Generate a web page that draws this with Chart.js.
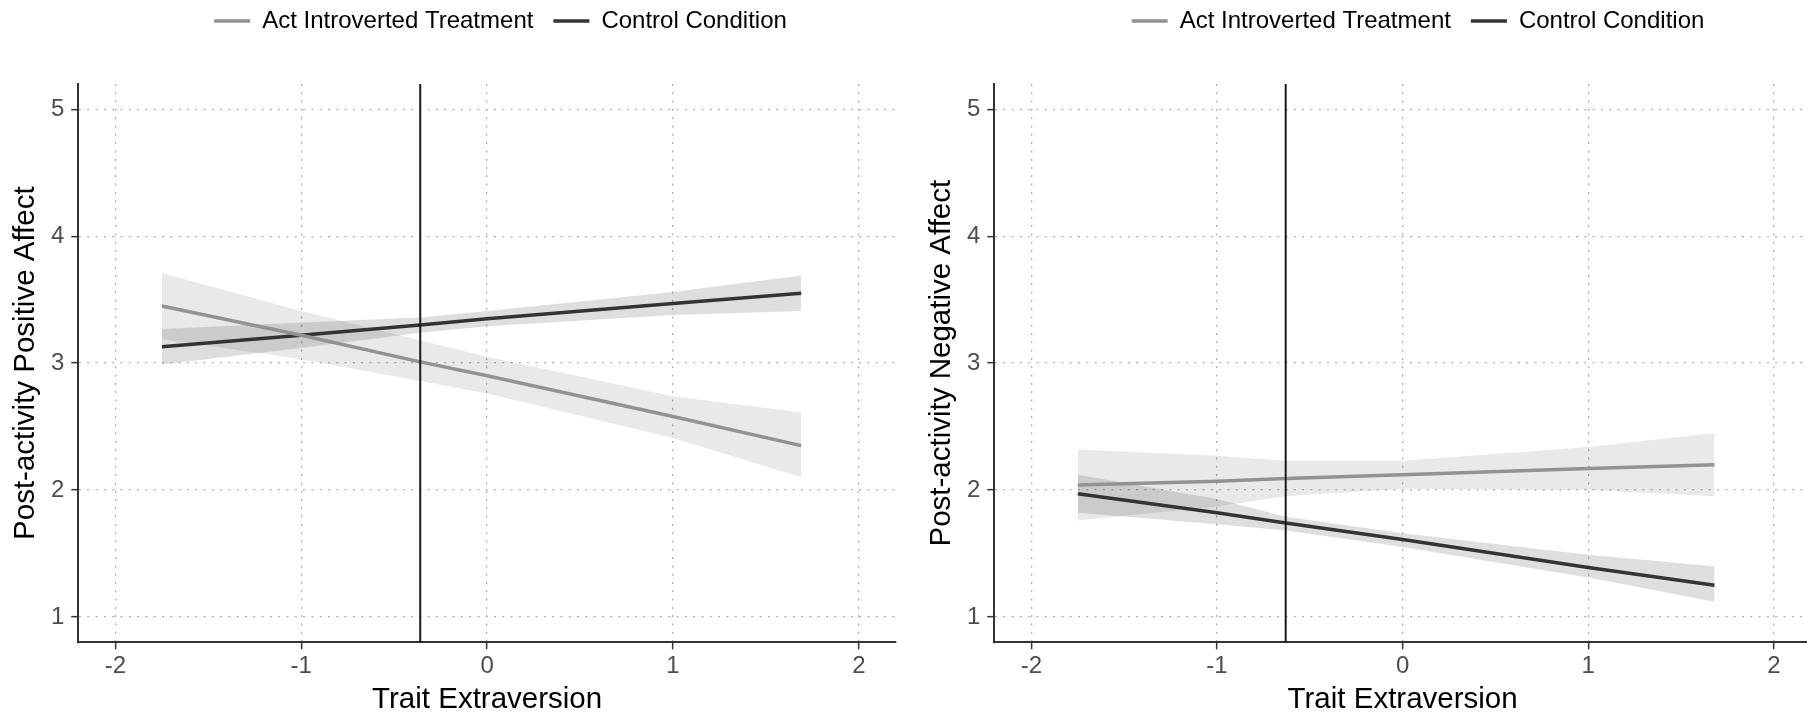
<!DOCTYPE html>
<html>
<head>
  <script src="https://cdn.jsdelivr.net/npm/chart.js"></script>
  <style>
    body {
      margin:0;
      overflow:hidden;
      background:#ffffff;
    }
    .Panel {
      position:absolute;
      top:0px;
      height:718px;
    }
  </style>
</head>
<body>
<div class="Panel" style="left:0px; width:903px;"><canvas id="posChart"></canvas></div>
<div class="Panel" style="left:903px; width:912px;"><canvas id="negChart"></canvas></div>

<script>
  var fontFamily = "'Liberation Sans', Arial, sans-serif";
  var seriesNames = ["Act Introverted Treatment", "Control Condition"];
  var xTitle = "Trait Extraversion";
  var xTicks = [-2, -1, 0, 1, 2];
  var yTicks = [1, 2, 3, 4, 5];
  var xRange = [-2.2, 2.2];
  var yRange = [0.8, 5.2];

  // left panel: positive affect
  var posTitle  = "Post-activity Positive Affect";
  var posX      = [-1.75, -1,   -0.36, 0,    1,    1.69];
  var posActFit = [3.45,  3.22, 3.01,  2.90, 2.58, 2.35];
  var posActHi  = [3.71,  3.41, 3.18,  3.05, 2.74, 2.61];
  var posActLo  = [3.19,  3.03, 2.86,  2.76, 2.41, 2.10];
  var posCtlFit = [3.13,  3.22, 3.30,  3.35, 3.47, 3.55];
  var posCtlHi  = [3.27,  3.32, 3.36,  3.41, 3.56, 3.69];
  var posCtlLo  = [2.99,  3.12, 3.24,  3.29, 3.38, 3.41];
  var posMarker = -0.36;

  // right panel: negative affect
  var negTitle  = "Post-activity Negative Affect";
  var negX      = [-1.75, -1,   -0.63, 0,    1,    1.68];
  var negActFit = [2.04,  2.07, 2.09,  2.12, 2.17, 2.20];
  var negActHi  = [2.32,  2.27, 2.23,  2.23, 2.34, 2.45];
  var negActLo  = [1.76,  1.87, 1.95,  2.01, 2.00, 1.95];
  var negCtlFit = [1.97,  1.82, 1.74,  1.61, 1.39, 1.25];
  var negCtlHi  = [2.12,  1.93, 1.79,  1.66, 1.49, 1.40];
  var negCtlLo  = [1.82,  1.73, 1.68,  1.55, 1.31, 1.12];
  var negMarker = -0.63;

  function pts(xs, ys)
  {
    var ret = [];
    for (var i=0;i<xs.length;i++)
      ret.push({x:xs[i], y:ys[i]});
    return ret;
  }

  // moves the legend and leaves a gap below it
  var legendPlace = {
    id: 'legendPlace',
    beforeLayout: function(chart, args, opts) {
      var lg = chart.legend;
      if (lg && !lg._patched) {
        var fit = lg.fit;
        lg.fit = function() { fit.call(this); this.height += opts.gap; };
        lg._patched = true;
      }
    },
    afterLayout: function(chart, args, opts) {
      chart.legend.left += opts.dx;
      chart.legend.right += opts.dx;
      chart.legend.top += opts.dy;
    }
  };

  function makeChart(id, d, pad, dx)
  {
    var band = {pointRadius:0, borderWidth:0, borderColor:'transparent', tension:0};
    var dataSets = [
      {label:'marker', data:[{x:d.marker, y:yRange[0]}, {x:d.marker, y:yRange[1]}],
        borderColor:'#1a1a1a', borderWidth:2, pointRadius:0, fill:false},
      {label:seriesNames[0], data:pts(d.x, d.actFit), borderColor:'#929292', borderWidth:3.5, pointRadius:0, fill:false},
      {label:seriesNames[1], data:pts(d.x, d.ctlFit), borderColor:'#333333', borderWidth:3.5, pointRadius:0, fill:false},
      {...band, label:'actHi', data:pts(d.x, d.actHi), fill:false},
      {...band, label:'actLo', data:pts(d.x, d.actLo), fill:'-1', backgroundColor:'rgba(0,0,0,0.085)'},
      {...band, label:'ctlHi', data:pts(d.x, d.ctlHi), fill:false},
      {...band, label:'ctlLo', data:pts(d.x, d.ctlLo), fill:'-1', backgroundColor:'rgba(0,0,0,0.13)'},
    ];
    var grid = {
      color:'#b0b0b0', lineWidth:1.3,
      drawTicks:true, tickLength:7, tickColor:'#333333', tickWidth:1.5, tickBorderDash:[]
    };
    var border = {display:true, color:'#333333', width:2, dash:[2,6.3]};
    return new Chart(document.getElementById(id), {
      type: 'line',
      data: { datasets: dataSets },
      plugins: [legendPlace],
      options: {
        responsive: true,
        maintainAspectRatio: false,
        animation: false,
        layout: { padding: pad },
        plugins: {
          legendPlace: { dx:dx, dy:-11, gap:30 },
          tooltip: { enabled:false },
          legend: {
            position: 'top',
            labels: {
              usePointStyle: true,
              pointStyle: 'line',
              pointStyleWidth: 36,
              padding: 20,
              color: '#000000',
              font: { family:fontFamily, size:24 },
              filter: function(item) { return seriesNames.indexOf(item.text) >= 0; }
            }
          }
        },
        scales: {
          x: {
            type: 'linear',
            min: xRange[0],
            max: xRange[1],
            afterBuildTicks: function(s) { s.ticks = xTicks.map(function(v){ return {value:v}; }); },
            ticks: { color:'#4d4d4d', padding:2.5, font:{family:fontFamily, size:24},
              maxRotation:0, callback: function(v){ return v.toString(); } },
            grid: grid,
            border: border,
            title: { display:true, text:xTitle, color:'#000000',
              font:{family:fontFamily, size:29.5, lineHeight:1.15}, padding:{top:0, bottom:1} }
          },
          y: {
            type: 'linear',
            min: yRange[0],
            max: yRange[1],
            afterBuildTicks: function(s) { s.ticks = yTicks.map(function(v){ return {value:v}; }); },
            ticks: { color:'#4d4d4d', padding:7, font:{family:fontFamily, size:24},
              callback: function(v){ return v.toString(); } },
            grid: grid,
            border: border,
            title: { display:true, text:d.title, color:'#000000',
              font:{family:fontFamily, size:29.5, lineHeight:1.15}, padding:{top:0, bottom:1} }
          }
        }
      }
    });
  }

  makeChart('posChart', {
    title:posTitle, x:posX, marker:posMarker,
    actFit:posActFit, actHi:posActHi, actLo:posActLo,
    ctlFit:posCtlFit, ctlHi:posCtlHi, ctlLo:posCtlLo
  }, {left:9, right:7, top:0, bottom:0}, 48);

  makeChart('negChart', {
    title:negTitle, x:negX, marker:negMarker,
    actFit:negActFit, actHi:negActHi, actLo:negActLo,
    ctlFit:negCtlFit, ctlHi:negCtlHi, ctlLo:negCtlLo
  }, {left:22, right:4, top:0, bottom:0}, 50);
</script>
</body>
</html>
